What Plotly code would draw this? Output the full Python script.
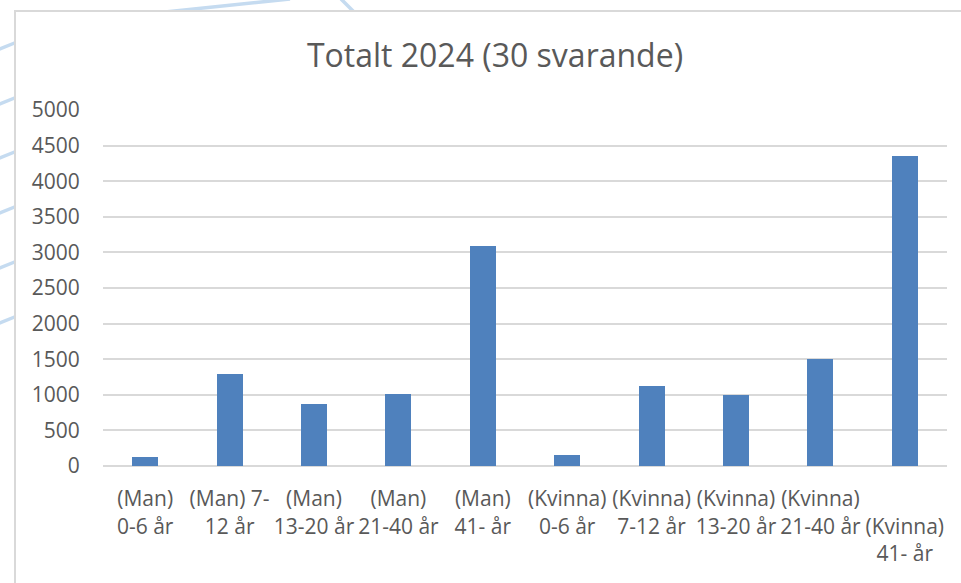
import plotly.graph_objects as go

# ---- data ----
categories = [
    "(Man)<br>0-6 år",
    "(Man) 7-<br>12 år",
    "(Man)<br>13-20 år",
    "(Man)<br>21-40 år",
    "(Man)<br>41- år",
    "(Kvinna)<br>0-6 år",
    "(Kvinna)<br>7-12 år",
    "(Kvinna)<br>13-20 år",
    "(Kvinna)<br>21-40 år",
    "\u00a0<br>(Kvinna)<br>41- år",
]
values = [120, 1290, 872, 1015, 3085, 158, 1122, 997, 1505, 4356]
y_ticks = [0, 500, 1000, 1500, 2000, 2500, 3000, 3500, 4000, 4500, 5000]
title_text = "Totalt 2024 (30 svarande)"

W, H = 961, 583
TXT = "#595959"
GRID = "#d9d9d9"
BAR = "#4f81bd"
DECO = "#c5dbf0"


def px(x):
    return x / W


def py(y):
    return 1 - y / H


fig = go.Figure()
fig.add_trace(go.Bar(
    x=list(range(len(categories))),
    y=values,
    width=0.31,
    marker=dict(color=BAR, line=dict(width=0)),
    hoverinfo="skip",
))

shapes = []
# decorative background lines (slide background)
for y0 in [49, 104, 158, 213, 268, 323]:
    shapes.append(dict(type="line", xref="paper", yref="paper",
                       x0=px(-5), y0=py(y0 + 2), x1=px(17), y1=py(y0 - 7),
                       line=dict(color=DECO, width=3.5), layer="below"))
shapes.append(dict(type="line", xref="paper", yref="paper",
                   x0=px(165), y0=py(12), x1=px(290), y1=py(-1),
                   line=dict(color=DECO, width=3.5), layer="below"))
shapes.append(dict(type="line", xref="paper", yref="paper",
                   x0=px(341), y0=py(-1), x1=px(354), y1=py(12),
                   line=dict(color=DECO, width=3.5), layer="below"))
# chart frame
shapes.append(dict(type="rect", xref="paper", yref="paper",
                   x0=px(15), y0=py(620), x1=px(1000), y1=py(11),
                   fillcolor="white", line=dict(color=GRID, width=2), layer="below"))

fig.update_layout(
    width=W, height=H,
    margin=dict(l=0, r=0, t=0, b=0),
    paper_bgcolor="white",
    plot_bgcolor="rgba(0,0,0,0)",
    showlegend=False,
    font=dict(family="Open Sans, sans-serif", color=TXT, size=21),
    shapes=shapes,
    title=dict(text=title_text, x=px(495), y=py(56), xanchor="center", yanchor="middle",
               xref="paper", yref="paper",
               font=dict(family="Open Sans, sans-serif", size=32, color=TXT)),
    bargap=0,
)
fig.update_xaxes(
    domain=[px(103), px(947)],
    range=[-0.5, len(categories) - 0.5],
    tickmode="array",
    tickvals=list(range(len(categories))),
    ticktext=categories,
    showgrid=False, zeroline=False, showline=False,
    ticks="outside", ticklen=14, tickcolor="rgba(0,0,0,0)",
    tickangle=0,
    tickfont=dict(size=21, color=TXT),
    automargin=False,
)
fig.update_yaxes(
    domain=[py(466), py(110)],
    range=[0, 5000],
    tickmode="array",
    tickvals=y_ticks,
    ticktext=[str(v) for v in y_ticks],
    showgrid=True, gridcolor=GRID, gridwidth=2,
    zeroline=True, zerolinecolor=GRID, zerolinewidth=2,
    showline=False,
    ticks="outside", ticklen=18, tickcolor="rgba(0,0,0,0)",
    tickfont=dict(size=21, color=TXT),
    automargin=False,
)

fig.write_html(
    "out.html",
    config={"displayModeBar": False},
    post_script="document.body.style.margin='0';document.body.style.overflow='hidden';",
)
